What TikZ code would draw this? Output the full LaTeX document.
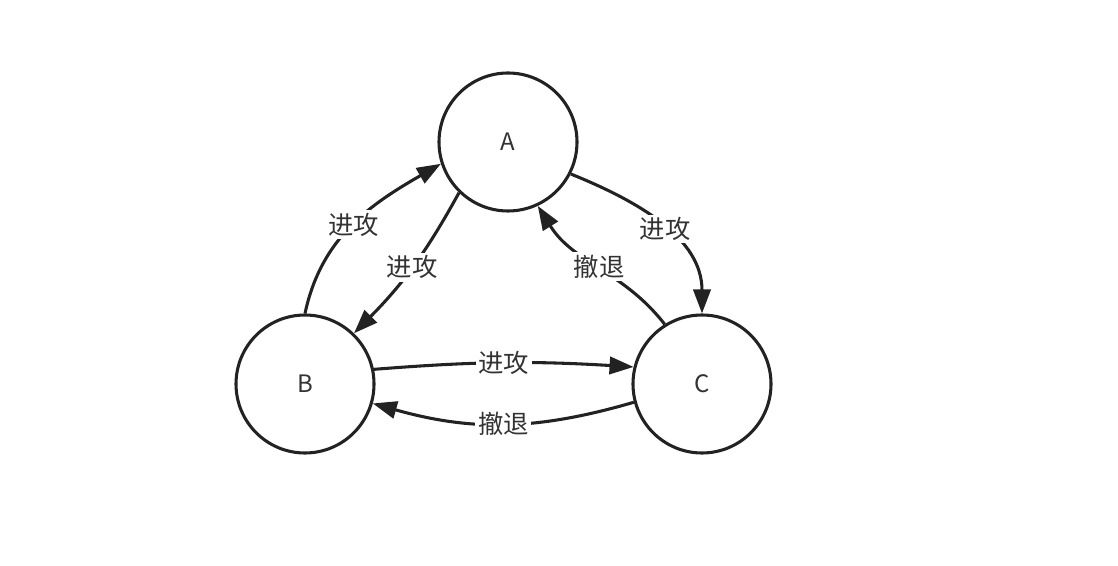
\documentclass[tikz,border=0pt]{standalone}
\usepackage{fontspec}
\newfontfamily\cjk{Noto Sans CJK SC}
\usetikzlibrary{arrows.meta}
\definecolor{ink}{HTML}{222222}
\definecolor{txt}{HTML}{333333}

\begin{document}
\begin{tikzpicture}[x=0.75pt, y=-0.75pt, >={Triangle[length=18pt, width=13pt]},
  state/.style={circle, draw=ink, line width=2.3pt, minimum size=138*0.75pt,
                inner sep=0pt, font=\cjk\fontsize{18}{21}\selectfont, text=txt},
  move/.style={->, draw=ink, line width=2.3pt},
  lbl/.style={fill=white, inner sep=2pt, font=\cjk\fontsize{19}{21}\selectfont, text=txt}]
  \useasboundingbox (0,0) rectangle (1118,566);

  % States
  \node[state] (A) at (508,142) {A};
  \node[state] (B) at (305,384) {B};
  \node[state] (C) at (702,384) {C};

  % A <-> B
  \draw[move] (B.90) to[out=78, in=210] node[lbl, pos=0.5] (ba) {进攻} (A.198);
  \draw[move] (A.226) to[bend left=8] node[lbl, pos=0.5] (ab) {进攻} (B.46);

  % A <-> C
  \draw[move] (A.333) to[out=-22, in=90] node[lbl, pos=0.52] (ac) {进攻} (C.90);
  \draw[move] (C.122) to[out=128, in=-58] node[lbl, pos=0.5] (ca) {撤退} (A.295);

  % B <-> C
  \draw[move] (B.12) to[bend left=4] node[lbl, pos=0.5] (bc) {进攻} (C.166);
  \draw[move] (C.195) to[bend left=16] node[lbl, pos=0.5] (cb) {撤退} (B.344);
\end{tikzpicture}
\end{document}
